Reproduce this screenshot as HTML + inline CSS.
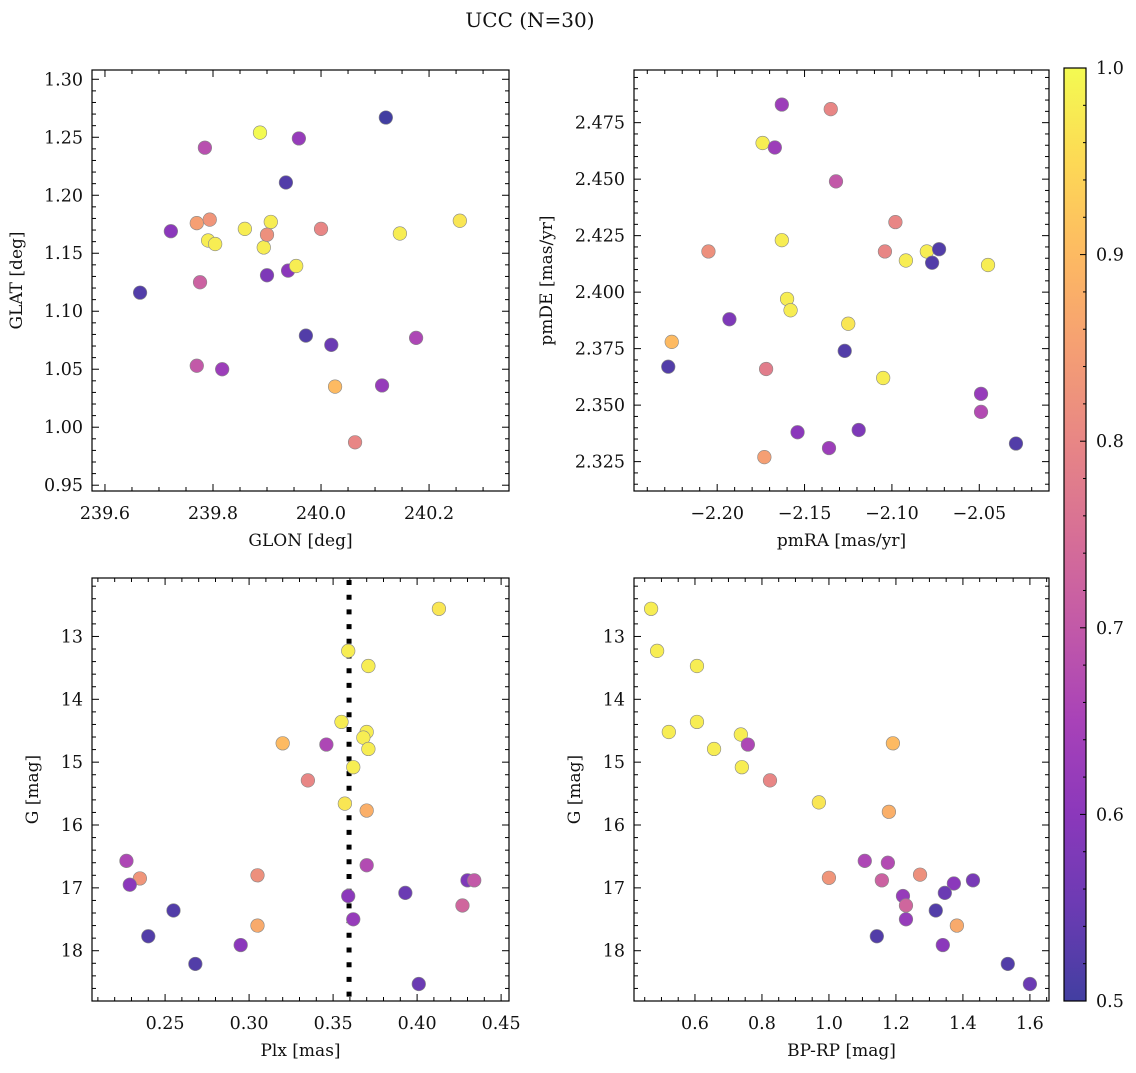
<!DOCTYPE html>
<html><head><meta charset="utf-8"><style>
html,body{margin:0;padding:0;background:#fff;}
svg text{font-family:"DejaVu Serif","Liberation Serif",serif;fill:#111;}
</style></head><body>
<svg id="fig" width="1136" height="1068" viewBox="0 0 1136 1068" xmlns="http://www.w3.org/2000/svg">
<defs>
<linearGradient id="cbg" x1="0" y1="1" x2="0" y2="0"></linearGradient>
</defs>
<text x="530" y="27" font-size="20" text-anchor="middle">UCC (N=30)</text>
</svg>
<script>
// ---- data ----
const p1Glon=[240.12,239.887,239.959,239.785,239.935,239.722,239.770,239.794,239.791,239.804,239.859,239.907,239.894,239.900,240.000,240.146,240.257,239.665,239.776,239.900,239.939,239.954,239.972,240.019,240.176,239.770,239.817,240.026,240.113,240.063];
const p1Glat=[1.267,1.254,1.249,1.241,1.211,1.169,1.176,1.179,1.161,1.158,1.171,1.177,1.155,1.166,1.171,1.167,1.178,1.116,1.125,1.131,1.135,1.139,1.079,1.071,1.077,1.053,1.050,1.035,1.036,0.987];
const p1Prob=[0.5,1.0,0.62,0.68,0.52,0.6,0.85,0.83,0.98,0.98,0.98,0.98,0.98,0.82,0.8,0.98,0.97,0.52,0.72,0.58,0.6,0.98,0.52,0.55,0.66,0.7,0.63,0.9,0.62,0.8];

const p2PmRA=[-2.163,-2.135,-2.174,-2.167,-2.132,-2.098,-2.205,-2.163,-2.104,-2.080,-2.073,-2.092,-2.077,-2.045,-2.160,-2.158,-2.193,-2.125,-2.226,-2.228,-2.127,-2.172,-2.105,-2.049,-2.049,-2.154,-2.119,-2.136,-2.029,-2.173];
const p2PmDE=[2.483,2.481,2.466,2.464,2.449,2.431,2.418,2.423,2.418,2.418,2.419,2.414,2.413,2.412,2.397,2.392,2.388,2.386,2.378,2.367,2.374,2.366,2.362,2.355,2.347,2.338,2.339,2.331,2.333,2.327];
const p2Prob=[0.63,0.8,0.98,0.63,0.7,0.8,0.82,0.98,0.8,0.98,0.52,0.98,0.52,0.98,0.98,0.98,0.58,0.97,0.9,0.52,0.52,0.78,0.98,0.62,0.67,0.6,0.58,0.63,0.52,0.85];

const p3Plx=[0.413,0.359,0.371,0.320,0.346,0.355,0.370,0.368,0.371,0.362,0.335,0.357,0.370,0.227,0.235,0.229,0.305,0.370,0.393,0.430,0.434,0.427,0.255,0.359,0.362,0.305,0.240,0.295,0.268,0.401];
const p3G=[12.56,13.23,13.47,14.70,14.72,14.36,14.52,14.61,14.79,15.08,15.29,15.66,15.77,16.57,16.85,16.95,16.80,16.64,17.08,16.88,16.88,17.28,17.36,17.13,17.50,17.60,17.77,17.91,18.21,18.53];
const p3Prob=[0.97,0.98,0.98,0.9,0.66,0.98,0.98,0.98,0.98,0.98,0.8,0.97,0.88,0.66,0.83,0.6,0.82,0.67,0.55,0.58,0.7,0.73,0.52,0.6,0.62,0.87,0.52,0.6,0.52,0.55];
const plxLine=0.3595;

const p4BpRp=[0.469,0.487,0.606,0.606,0.522,0.737,0.657,0.758,0.740,1.191,0.824,0.970,1.179,1.107,1.176,1.000,1.158,1.272,1.373,1.430,1.221,1.346,1.230,1.230,1.319,1.382,1.143,1.340,1.534,1.600];
const p4G=[12.56,13.23,13.47,14.36,14.52,14.56,14.79,14.72,15.08,14.70,15.29,15.64,15.79,16.57,16.60,16.84,16.88,16.79,16.93,16.88,17.13,17.08,17.28,17.50,17.36,17.60,17.77,17.91,18.21,18.53];
const p4Prob=[0.98,0.98,0.98,0.98,0.98,0.98,0.98,0.66,0.98,0.9,0.8,0.97,0.88,0.66,0.67,0.83,0.72,0.82,0.6,0.57,0.62,0.55,0.73,0.62,0.52,0.87,0.52,0.6,0.52,0.55];

const cbTicks=[0.5,0.6,0.7,0.8,0.9,1.0];

// ---- helpers ----
const NS="http://www.w3.org/2000/svg";
const svg=document.getElementById('fig');
function mk(tag,attrs,parent){const e=document.createElementNS(NS,tag);for(const k in attrs)e.setAttribute(k,attrs[k]);(parent||svg).appendChild(e);return e;}
const stops=[[0,[13,8,135]],[0.1,[65,4,157]],[0.2,[106,0,168]],[0.3,[143,13,164]],[0.4,[177,42,144]],[0.5,[204,71,120]],[0.6,[225,100,98]],[0.7,[242,132,75]],[0.8,[252,166,54]],[0.9,[252,206,37]],[1,[240,249,33]]];
const ALPHA=0.78;
function plasma(v){let t=(v-0.5)/0.5;t=Math.max(0,Math.min(1,t));
 for(let i=0;i<stops.length-1;i++){const a=stops[i],b=stops[i+1];if(t<=b[0]+1e-9){const f=(t-a[0])/(b[0]-a[0]);
  const c=a[1].map((x,j)=>Math.round((x+(b[1][j]-x)*f)*ALPHA+255*(1-ALPHA)));return `rgb(${c[0]},${c[1]},${c[2]})`;}}
 return 'rgb(243,250,78)';}
const grad=document.getElementById('cbg');
for(let k=0;k<=20;k++){mk('stop',{offset:k/20,'stop-color':plasma(0.5+k/40)},grad);}

const TF=17.5;
function panel(o){
 const g=mk('g',{});
 
 
 const sx=v=>o.x0+(v-o.xd[0])/(o.xd[1]-o.xd[0])*(o.x1-o.x0);
 const sy=o.yinv?(v=>o.y0+(v-o.yd[0])/(o.yd[1]-o.yd[0])*(o.y1-o.y0)):(v=>o.y1-(v-o.yd[0])/(o.yd[1]-o.yd[0])*(o.y1-o.y0));
 const eps=1e-9;
 for(let v=Math.ceil(o.xd[0]/o.xmin)*o.xmin;v<=o.xd[1]+eps;v+=o.xmin){
  const rv=Math.round(v/o.xmin)*o.xmin;const isMaj=Math.abs(rv/o.xmaj-Math.round(rv/o.xmaj))<1e-6;
  const x=sx(rv),L=isMaj?7:4;
  mk('line',{x1:x,x2:x,y1:o.y1,y2:o.y1-L,stroke:'#000','stroke-width':1},g);
  mk('line',{x1:x,x2:x,y1:o.y0,y2:o.y0+L,stroke:'#000','stroke-width':1},g);
  if(isMaj){const t=mk('text',{x:x,y:o.y1+28,'font-size':TF,'text-anchor':'middle'},g);t.textContent=(rv<0?'\u2212':'')+Math.abs(rv).toFixed(o.xdec);
   
   }
 }
 for(let v=Math.ceil(o.yd[0]/o.ymin)*o.ymin;v<=o.yd[1]+eps;v+=o.ymin){
  const rv=Math.round(v/o.ymin)*o.ymin;const isMaj=Math.abs(rv/o.ymaj-Math.round(rv/o.ymaj))<1e-6;
  const y=sy(rv),L=isMaj?7:4;
  mk('line',{x1:o.x0,x2:o.x0+L,y1:y,y2:y,stroke:'#000','stroke-width':1},g);
  mk('line',{x1:o.x1,x2:o.x1-L,y1:y,y2:y,stroke:'#000','stroke-width':1},g);
  if(isMaj){const t=mk('text',{x:o.x0-9,y:y+6,'font-size':TF,'text-anchor':'end'},g);t.textContent=rv.toFixed(o.ydec);
   
   }
 }
 if(o.vline!==undefined){const l=mk('line',{x1:sx(o.vline),x2:sx(o.vline),y1:o.y0+2,y2:o.y1,stroke:'#000','stroke-width':5,'stroke-dasharray':'5 9.7'},g);
  
  }
 for(let i=0;i<o.xs.length;i++){
  const c=mk('circle',{cx:sx(o.xs[i]),cy:sy(o.ys[i]),r:6.8,fill:plasma(o.ps[i]),stroke:'#888','stroke-width':0.6},g);
  
  
 }
 mk('rect',{x:o.x0,y:o.y0,width:o.x1-o.x0,height:o.y1-o.y0,fill:'none',stroke:'#000','stroke-width':1.2},g);
 const xl=mk('text',{x:(o.x0+o.x1)/2,y:o.y1+55,'font-size':17,'text-anchor':'middle'},g);xl.textContent=o.xlab;
 
 
 const yc=(o.y0+o.y1)/2,yx=o.x0-o.ylo;
 const yl=mk('text',{x:yx,y:yc,'font-size':17,'text-anchor':'middle',transform:`rotate(-90 ${yx} ${yc})`},g);yl.textContent=o.ylab;
 
 
}

panel({name:'glon-glat-panel',x0:92,x1:509,y0:70,y1:491,xd:[239.576,240.348],yd:[0.945,1.308],xmaj:0.2,xmin:0.05,ymaj:0.05,ymin:0.01,xdec:1,ydec:2,xs:p1Glon,ys:p1Glat,ps:p1Prob,xlab:'GLON [deg]',ylab:'GLAT [deg]',ylo:70});
panel({name:'pm-panel',x0:634,x1:1049,y0:70,y1:491,xd:[-2.2476,-2.0101],yd:[2.312,2.4983],xmaj:0.05,xmin:0.01,ymaj:0.025,ymin:0.005,xdec:2,ydec:3,xs:p2PmRA,ys:p2PmDE,ps:p2Prob,xlab:'pmRA [mas/yr]',ylab:'pmDE [mas/yr]',ylo:82});
panel({name:'plx-g-panel',x0:92,x1:509,y0:578,y1:1001,xd:[0.2065,0.4547],yd:[12.07,18.80],yinv:true,xmaj:0.05,xmin:0.01,ymaj:1,ymin:0.2,xdec:2,ydec:0,xs:p3Plx,ys:p3G,ps:p3Prob,xlab:'Plx [mas]',ylab:'G [mag]',ylo:54,vline:plxLine});
panel({name:'cmd-panel',x0:634,x1:1049,y0:578,y1:1001,xd:[0.418,1.657],yd:[12.07,18.80],yinv:true,xmaj:0.2,xmin:0.05,ymaj:1,ymin:0.2,xdec:1,ydec:0,xs:p4BpRp,ys:p4G,ps:p4Prob,xlab:'BP-RP [mag]',ylab:'G [mag]',ylo:54});

const cb=mk('g',{});


const cx0=1064,cx1=1086,cy0=68,cy1=1001;
mk('rect',{x:cx0,y:cy0,width:cx1-cx0,height:cy1-cy0,fill:'url(#cbg)',stroke:'#000','stroke-width':1.2},cb);
const cby=v=>cy1-(v-0.5)/0.5*(cy1-cy0);
for(let k=0;k<=25;k++){const v=0.5+k*0.02;const maj=k%5===0;
 mk('line',{x1:cx1,x2:cx1-(maj?6:3),y1:cby(v),y2:cby(v),stroke:'#000','stroke-width':1},cb);}
cbTicks.forEach(v=>{const t=mk('text',{x:cx1+10,y:cby(v)+6,'font-size':TF},cb);t.textContent=v.toFixed(1);
 
 });
</script>
</body></html>
